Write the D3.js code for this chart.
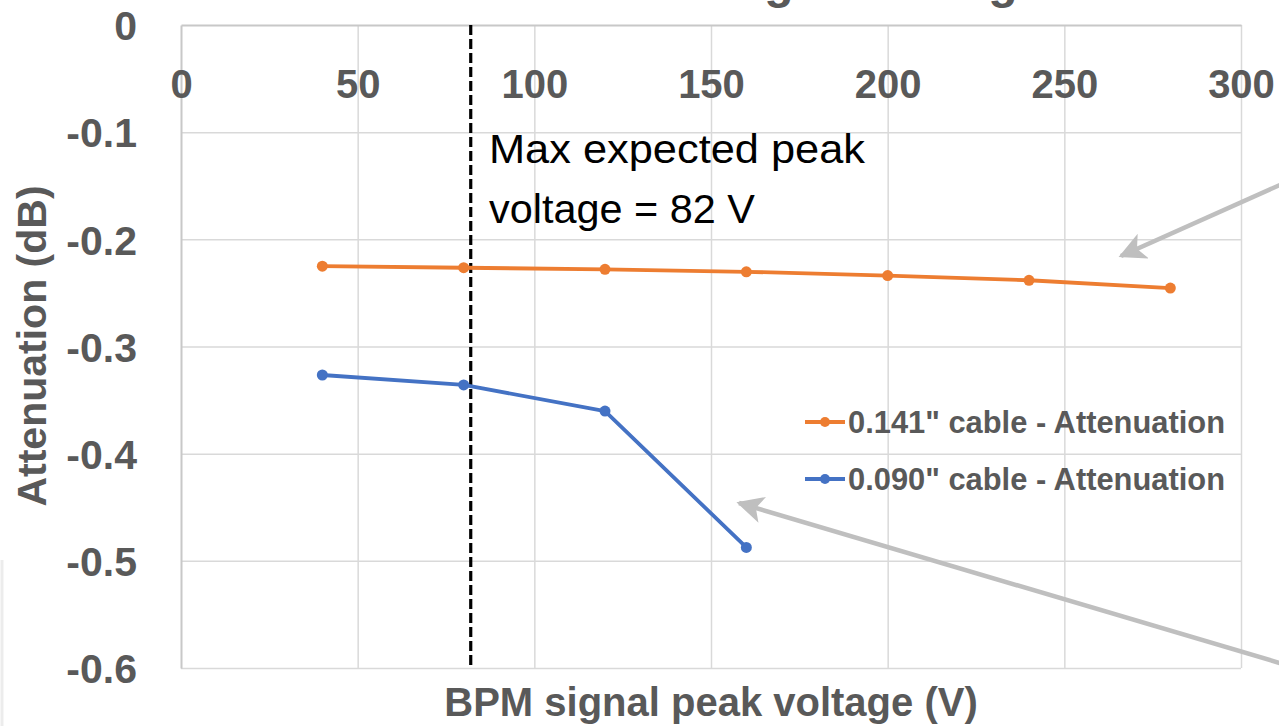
<!DOCTYPE html>
<html>
<head>
<meta charset="utf-8">
<script src="https://cdn.jsdelivr.net/npm/d3@7"></script>
<style>
  html, body { margin: 0; padding: 0; background: #ffffff; overflow: hidden; }
  svg { display: block; }
  text { font-family: "Liberation Sans", Arial, sans-serif; }
</style>
</head>
<body>
<svg id="chart" width="1279" height="726"></svg>
<script>
// Measured peak voltages (V) and cable attenuation (dB)
const voltages141 = [40, 80, 120, 160, 200, 240, 280];
const atten141 = [-0.225, -0.2265, -0.228, -0.2303, -0.2338, -0.2382, -0.2455];
const voltages090 = [40, 80, 120, 160];
const atten090 = [-0.3266, -0.3359, -0.3602, -0.4875];

const seriesNames = ['0.141" cable - Attenuation', '0.090" cable - Attenuation'];
const seriesColors = ["#ED7D31", "#4472C4"];

const xTicks = [0, 50, 100, 150, 200, 250, 300];
const yTicks = [0, -0.1, -0.2, -0.3, -0.4, -0.5, -0.6];
const maxPeakVoltage = 82;

const chartTitle = "Attenuation vs signal voltage";
const xTitle = "BPM signal peak voltage (V)";
const yTitle = "Attenuation (dB)";
const noteLines = ["Max expected peak", "voltage = " + maxPeakVoltage + " V"];

const svg = d3.select("#chart");
const W = 1279, H = 726;
const plot = { left: 181, right: 1241, top: 25, bottom: 668 };

const x = d3.scaleLinear().domain([0, 300]).range([plot.left, plot.right]);
const y = d3.scaleLinear().domain([-0.6, 0]).range([plot.bottom, plot.top]);

const textGray = "#595959";

// Title (sits mostly above the visible area)
svg.append("text")
  .attr("x", (plot.left + plot.right) / 2)
  .attr("y", -2)
  .attr("text-anchor", "middle")
  .attr("font-size", 48)
  .attr("font-weight", "bold")
  .attr("fill", textGray)
  .text(chartTitle);

// Horizontal gridlines
svg.append("g")
  .attr("transform", `translate(${plot.left},0)`)
  .call(d3.axisLeft(y).tickValues(yTicks.slice(1)).tickSize(-(plot.right - plot.left)).tickFormat(""))
  .call(g => g.select(".domain").remove())
  .call(g => g.selectAll("line").attr("stroke", "#d9d9d9").attr("stroke-width", 1.5));

// Vertical gridlines
svg.append("g")
  .attr("transform", `translate(0,${plot.bottom})`)
  .call(d3.axisBottom(x).tickValues(xTicks.slice(1)).tickSize(-(plot.bottom - plot.top)).tickFormat(""))
  .call(g => g.select(".domain").remove())
  .call(g => g.selectAll("line").attr("stroke", "#d9d9d9").attr("stroke-width", 1.5));

// Value axis line and labels (plain hyphen for the minus sign)
const yAxis = svg.append("g")
  .attr("transform", `translate(${plot.left},0)`)
  .call(d3.axisLeft(y).tickValues(yTicks).tickSize(0).tickPadding(44)
    .tickFormat(d => d === 0 ? "0" : d.toFixed(1)));
yAxis.select(".domain").attr("stroke", "#c8c8c8").attr("stroke-width", 2);
yAxis.selectAll("text")
  .attr("font-family", '"Liberation Sans", Arial, sans-serif')
  .attr("font-size", 41)
  .attr("font-weight", "bold")
  .attr("fill", textGray)
  .attr("dy", "0.36em");

// Category axis crossing at zero, labels below the line
const xAxis = svg.append("g")
  .attr("transform", `translate(0,${y(0)})`)
  .call(d3.axisBottom(x).tickValues(xTicks).tickSize(0).tickPadding(45).tickFormat(d3.format("d")));
xAxis.select(".domain").attr("stroke", "#c8c8c8").attr("stroke-width", 2);
xAxis.selectAll("text")
  .attr("font-family", '"Liberation Sans", Arial, sans-serif')
  .attr("font-size", 40)
  .attr("font-weight", "bold")
  .attr("fill", textGray);

// Axis titles
svg.append("text")
  .attr("transform", `translate(46,346) rotate(-90)`)
  .attr("text-anchor", "middle")
  .attr("font-size", 41)
  .attr("font-weight", "bold")
  .attr("fill", textGray)
  .text(yTitle);

svg.append("text")
  .attr("x", (plot.left + plot.right) / 2)
  .attr("y", 716)
  .attr("text-anchor", "middle")
  .attr("font-size", 40)
  .attr("font-weight", "bold")
  .attr("fill", textGray)
  .text(xTitle);

// Max expected peak voltage marker
svg.append("line")
  .attr("x1", x(maxPeakVoltage)).attr("x2", x(maxPeakVoltage))
  .attr("y1", y(0)).attr("y2", y(-0.6))
  .attr("stroke", "#000").attr("stroke-width", 3.2)
  .attr("stroke-dasharray", "10,4");

const noteWidths = [376, 266];
svg.append("text")
  .attr("font-size", 40)
  .attr("fill", "#000")
  .selectAll("tspan")
  .data(noteLines)
  .join("tspan")
  .attr("x", 489)
  .attr("y", (d, i) => 163 + i * 60)
  .attr("textLength", (d, i) => noteWidths[i])
  .attr("lengthAdjust", "spacingAndGlyphs")
  .text(d => d);

// Series lines and markers
const series = [
  { name: seriesNames[0], color: seriesColors[0], xs: voltages141, ys: atten141 },
  { name: seriesNames[1], color: seriesColors[1], xs: voltages090, ys: atten090 }
];

const line = d3.line().x(d => x(d[0])).y(d => y(d[1]));

series.forEach(s => {
  const pts = s.xs.map((v, i) => [v, s.ys[i]]);
  svg.append("path")
    .datum(pts)
    .attr("d", line)
    .attr("fill", "none")
    .attr("stroke", s.color)
    .attr("stroke-width", 3.8)
    .attr("stroke-linejoin", "round");
  svg.append("g")
    .selectAll("circle")
    .data(pts)
    .join("circle")
    .attr("cx", d => x(d[0]))
    .attr("cy", d => y(d[1]))
    .attr("r", 5.5)
    .attr("fill", s.color);
});

// Legend
const legend = svg.append("g").attr("transform", "translate(805,422)");
series.forEach((s, i) => {
  const g = legend.append("g").attr("transform", `translate(0,${i * 57})`);
  g.append("line").attr("x1", 0).attr("x2", 40).attr("y1", 0).attr("y2", 0)
    .attr("stroke", s.color).attr("stroke-width", 3.8);
  g.append("circle").attr("cx", 20).attr("cy", 0).attr("r", 5).attr("fill", s.color);
  g.append("text")
    .attr("x", 43).attr("y", 0).attr("dy", "0.36em")
    .attr("font-size", 31)
    .attr("font-weight", "bold")
    .attr("fill", textGray)
    .attr("textLength", 377)
    .attr("lengthAdjust", "spacingAndGlyphs")
    .text(s.name);
});

// Callout arrows pointing at each curve
const defs = svg.append("defs");
defs.append("marker")
  .attr("id", "arrowhead")
  .attr("viewBox", "0 0 10 10")
  .attr("refX", 9).attr("refY", 5)
  .attr("markerWidth", 6).attr("markerHeight", 6)
  .attr("markerUnits", "strokeWidth")
  .attr("orient", "auto")
  .append("path")
  .attr("d", "M0,0 L10,5 L0,10 L2.5,5 Z")
  .attr("fill", "#bfbfbf");

const arrows = [
  { from: [1300, 176], to: [1121, 256] },
  { from: [1300, 669], to: [739, 503] }
];
arrows.forEach(a => {
  svg.append("line")
    .attr("x1", a.from[0]).attr("y1", a.from[1])
    .attr("x2", a.to[0]).attr("y2", a.to[1])
    .attr("stroke", "#bfbfbf").attr("stroke-width", 4.5)
    .attr("marker-end", "url(#arrowhead)");
});

// Faint frame edge at the lower left
svg.append("line")
  .attr("x1", 2).attr("x2", 2).attr("y1", 560).attr("y2", H)
  .attr("stroke", "#ececec").attr("stroke-width", 3);
</script>
</body>
</html>
